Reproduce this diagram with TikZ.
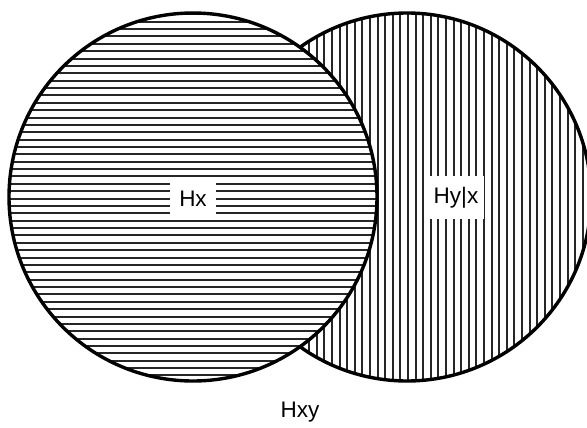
\documentclass[tikz,border=0pt]{standalone}
\usepackage{fontspec}
\setmainfont{Liberation Sans}
\begin{document}
\begin{tikzpicture}[x=1pt,y=-1pt,
  ring/.style={circle,draw=black,line width=3.4pt,minimum size=368pt,inner sep=0pt},
  hatch/.style={line width=2pt,draw=black!85},
  lab/.style={fill=white,inner sep=0pt,font=\fontsize{22.5}{26}\selectfont}]
\useasboundingbox (0,0) rectangle (587,428);
\coordinate (cy) at (407,197);
\coordinate (cx) at (193,197);
% right circle
\begin{scope}
  \clip (cy) circle[radius=184];
  \fill[white] (cy) circle[radius=184];
  \foreach \k in {-40,...,12}{
    \draw[hatch] ({506.7+7.6*\k},0) -- ({506.7+7.6*\k},428);
  }
\end{scope}
\node[ring] (Y) at (cy) {};
% left circle
\begin{scope}
  \clip (cx) circle[radius=184];
  \fill[white] (cx) circle[radius=184];
  \foreach \k in {-2,...,52}{
    \draw[hatch] (0,{21.7+7.37*\k}) -- (587,{21.7+7.37*\k});
  }
\end{scope}
\node[ring] (X) at (cx) {};
% labels
\node[lab,minimum width=46pt,minimum height=33pt] (hx) at (193,198.5) {Hx};
\node[lab,minimum width=56pt,minimum height=43pt] (hyx) at (456,197.5) {Hy|x};
\node[font=\fontsize{22.5}{26}\selectfont,inner sep=0pt] (hxy) at (300,412) {Hxy};
\end{tikzpicture}
\end{document}
